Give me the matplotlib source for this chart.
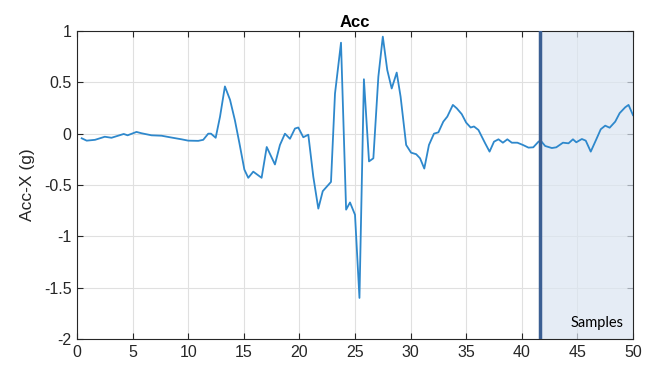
import numpy as np
import matplotlib.pyplot as plt

# values
t = [0.42, 0.87, 1.62, 2.5, 3.1, 4.2, 4.55, 5.35, 5.8, 6.7, 7.6, 8.35, 9.4, 10.0,
     10.9, 11.35, 11.8, 12.05, 12.47, 12.86, 13.3, 13.76, 14.2, 14.6, 15.05, 15.4,
     15.85, 16.6, 17.06, 17.8, 18.25, 18.7, 19.15, 19.6, 19.9, 20.35, 20.8, 21.25,
     21.7, 22.1, 22.84, 23.2, 23.74, 24.2, 24.55, 25.0, 25.4, 25.8, 26.26, 26.65,
     27.1, 27.5, 27.9, 28.3, 28.75, 29.1, 29.6, 30.04, 30.5, 30.85, 31.23, 31.65,
     32.1, 32.5, 32.94, 33.3, 33.8, 34.15, 34.6, 35.0, 35.4, 35.7, 36.1, 36.7,
     37.1, 37.5, 37.9, 38.3, 38.7, 39.1, 39.6, 40.1, 40.6, 41.03, 41.5, 41.7,
     42.1, 42.7, 43.1, 43.7, 44.2, 44.6, 44.9, 45.4, 45.75, 46.2, 46.7, 47.1,
     47.5, 47.9, 48.4, 48.8, 49.3, 49.6, 50.0]
acc_x = [-0.045, -0.068, -0.06, -0.03, -0.04, -0.003, -0.016, 0.017, 0.004, -0.016,
         -0.02, -0.035, -0.055, -0.068, -0.07, -0.06, 0.0, 0.0, -0.04, 0.165, 0.46,
         0.33, 0.13, -0.09, -0.35, -0.43, -0.37, -0.43, -0.13, -0.3, -0.11, 0.0,
         -0.05, 0.05, 0.06, -0.035, -0.01, -0.42, -0.73, -0.56, -0.47, 0.39, 0.886,
         -0.74, -0.67, -0.79, -1.6, 0.53, -0.27, -0.24, 0.555, 0.945, 0.62, 0.44,
         0.595, 0.36, -0.11, -0.185, -0.2, -0.24, -0.34, -0.11, 0.0, 0.013, 0.117,
         0.166, 0.28, 0.247, 0.19, 0.107, 0.06, 0.07, 0.036, -0.093, -0.175, -0.078,
         -0.055, -0.088, -0.055, -0.088, -0.088, -0.11, -0.136, -0.133, -0.078,
         -0.068, -0.12, -0.14, -0.133, -0.088, -0.094, -0.055, -0.084, -0.052,
         -0.068, -0.175, -0.055, 0.043, 0.078, 0.058, 0.117, 0.2, 0.257, 0.28, 0.18]
sample_start = 41.6
sample_end = 50

plt.rcParams['font.family'] = ['Liberation Sans', 'DejaVu Sans']

fig = plt.figure(figsize=(6.45, 3.66), dpi=100)
ax = fig.add_axes([0.1194, 0.0738, 0.862, 0.8415])

ax.axvspan(sample_start, sample_end, color='#dbe5f1', alpha=0.7, zorder=1, lw=0)
ax.plot(t, acc_x, color='#2e88cc', lw=1.3, zorder=3)
ax.axvline(sample_start, color='#3b5f93', lw=2.5, zorder=4)
ax.text(46.8, -1.84, 'Samples', family='Lato', fontsize=10.5, ha='center', va='center')

ax.set_xlim(0, 50)
ax.set_ylim(-2, 1)
ax.set_xticks(np.arange(0, 51, 5))
ax.set_yticks([-2, -1.5, -1, -0.5, 0, 0.5, 1])
ax.set_yticklabels(['-2', '-1.5', '-1', '-0.5', '0', '0.5', '1'])
ax.grid(True, color='#e0e0e0', lw=0.8, zorder=0)
ax.set_axisbelow(True)
ax.tick_params(direction='in', top=True, right=True, labelsize=11.5,
               colors='#262626', length=4, pad=4)
for s in ax.spines.values():
    s.set_color('#262626')
    s.set_linewidth(0.8)

ax.set_title('Acc', fontsize=12, fontweight='bold', pad=3)
ax.set_ylabel('Acc-X (g)', fontsize=12.5, color='#262626', labelpad=6)

fig.savefig('out.png', dpi=100)
